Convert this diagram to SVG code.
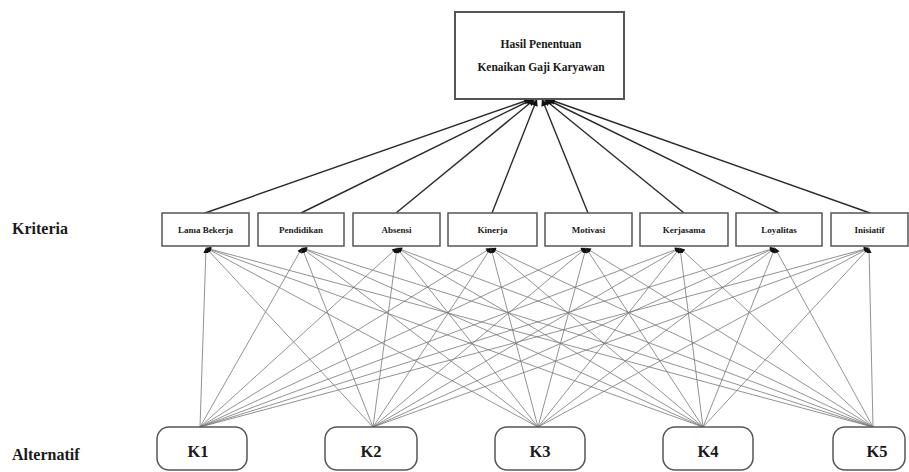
<svg xmlns="http://www.w3.org/2000/svg" width="909" height="472" viewBox="0 0 909 472">
<style>
.bx{fill:#fff;stroke:#555;stroke-width:1.5}
.t{font-family:"Liberation Serif","DejaVu Serif","Times New Roman",serif;font-weight:bold;fill:#1a1a1a;text-anchor:middle}
.up{stroke:#2a2a2a;stroke-width:1.4;fill:none}
.lo{stroke:#777;stroke-width:0.8;fill:none}
</style>
<defs>
<marker id="ah" viewBox="0 0 10 10" refX="10" refY="5" markerWidth="9" markerHeight="7" markerUnits="userSpaceOnUse" orient="auto">
<path d="M0,0 L10,5 L0,10 z" fill="#111"/>
</marker>
<marker id="as" viewBox="0 0 10 10" refX="10" refY="5" markerWidth="7" markerHeight="5" markerUnits="userSpaceOnUse" orient="auto">
<path d="M0,0 L10,5 L0,10 z" fill="#111"/>
</marker>
</defs>
<rect width="909" height="472" fill="#fff"/>
<text class="t" font-family="Liberation Serif, serif" x="12" y="234" style="text-anchor:start;font-size:16px">Kriteria</text>
<text class="t" font-family="Liberation Serif, serif" x="12" y="460" style="text-anchor:start;font-size:16px">Alternatif</text>
<g id="connectors">
<g class="up" marker-end="url(#ah)">
<line x1="205" y1="213" x2="531" y2="99"/>
<line x1="301" y1="213" x2="533" y2="99"/>
<line x1="396" y1="213" x2="535" y2="99"/>
<line x1="492" y1="213" x2="537" y2="99"/>
<line x1="588" y1="213" x2="542" y2="99"/>
<line x1="684" y1="213" x2="544" y2="99"/>
<line x1="779" y1="213" x2="546" y2="99"/>
<line x1="870" y1="213" x2="548" y2="99"/>
</g>
<g class="lo" marker-end="url(#as)">
<line x1="200" y1="427" x2="206" y2="248"/><line x1="200" y1="427" x2="302" y2="248"/><line x1="200" y1="427" x2="397" y2="248"/><line x1="200" y1="427" x2="491" y2="248"/><line x1="200" y1="427" x2="586" y2="248"/><line x1="200" y1="427" x2="680" y2="248"/><line x1="200" y1="427" x2="775" y2="248"/><line x1="200" y1="427" x2="869" y2="248"/>
<line x1="373" y1="427" x2="206" y2="248"/><line x1="373" y1="427" x2="302" y2="248"/><line x1="373" y1="427" x2="397" y2="248"/><line x1="373" y1="427" x2="491" y2="248"/><line x1="373" y1="427" x2="586" y2="248"/><line x1="373" y1="427" x2="680" y2="248"/><line x1="373" y1="427" x2="775" y2="248"/><line x1="373" y1="427" x2="869" y2="248"/>
<line x1="538" y1="427" x2="206" y2="248"/><line x1="538" y1="427" x2="302" y2="248"/><line x1="538" y1="427" x2="397" y2="248"/><line x1="538" y1="427" x2="491" y2="248"/><line x1="538" y1="427" x2="586" y2="248"/><line x1="538" y1="427" x2="680" y2="248"/><line x1="538" y1="427" x2="775" y2="248"/><line x1="538" y1="427" x2="869" y2="248"/>
<line x1="703" y1="427" x2="206" y2="248"/><line x1="703" y1="427" x2="302" y2="248"/><line x1="703" y1="427" x2="397" y2="248"/><line x1="703" y1="427" x2="491" y2="248"/><line x1="703" y1="427" x2="586" y2="248"/><line x1="703" y1="427" x2="680" y2="248"/><line x1="703" y1="427" x2="775" y2="248"/><line x1="703" y1="427" x2="869" y2="248"/>
<line x1="873" y1="427" x2="206" y2="248"/><line x1="873" y1="427" x2="302" y2="248"/><line x1="873" y1="427" x2="397" y2="248"/><line x1="873" y1="427" x2="491" y2="248"/><line x1="873" y1="427" x2="586" y2="248"/><line x1="873" y1="427" x2="680" y2="248"/><line x1="873" y1="427" x2="775" y2="248"/><line x1="873" y1="427" x2="869" y2="248"/>
</g>
</g>
<g id="goal">
<rect class="bx" x="455" y="12" width="169" height="87" style="stroke-width:2"/>
<text class="t" x="541" y="48" style="font-size:11.5px">Hasil Penentuan</text>
<text class="t" x="541" y="71" style="font-size:11.5px">Kenaikan Gaji Karyawan</text>
</g>
<g id="c1"><rect class="bx" x="162" y="213" width="87" height="33"/><text class="t" x="205.5" y="232.5" style="font-size:9px">Lama Bekerja</text></g>
<g id="c2"><rect class="bx" x="258" y="213" width="86" height="33"/><text class="t" x="301" y="232.5" style="font-size:9px">Pendidikan</text></g>
<g id="c3"><rect class="bx" x="353" y="213" width="87" height="33"/><text class="t" x="396.5" y="232.5" style="font-size:9px">Absensi</text></g>
<g id="c4"><rect class="bx" x="448" y="213" width="89" height="33"/><text class="t" x="492.5" y="232.5" style="font-size:9px">Kinerja</text></g>
<g id="c5"><rect class="bx" x="545" y="213" width="87" height="33"/><text class="t" x="588.5" y="232.5" style="font-size:9px">Motivasi</text></g>
<g id="c6"><rect class="bx" x="640" y="213" width="88" height="33"/><text class="t" x="684" y="232.5" style="font-size:9px">Kerjasama</text></g>
<g id="c7"><rect class="bx" x="736" y="213" width="86" height="33"/><text class="t" x="779" y="232.5" style="font-size:9px">Loyalitas</text></g>
<g id="c8"><rect class="bx" x="831" y="213" width="77" height="33"/><text class="t" x="869.5" y="232.5" style="font-size:9px">Inisiatif</text></g>
<g id="k1"><rect class="bx" x="157" y="427" width="90" height="43" rx="12"/><text class="t" x="198" y="457" style="font-size:16.5px">K1</text></g>
<g id="k2"><rect class="bx" x="325" y="427" width="92" height="43" rx="12"/><text class="t" x="371" y="457" style="font-size:16.5px">K2</text></g>
<g id="k3"><rect class="bx" x="495" y="427" width="90" height="43" rx="12"/><text class="t" x="540" y="457" style="font-size:16.5px">K3</text></g>
<g id="k4"><rect class="bx" x="663" y="427" width="90" height="43" rx="12"/><text class="t" x="708" y="457" style="font-size:16.5px">K4</text></g>
<g id="k5"><rect class="bx" x="833" y="427" width="72" height="43" rx="12"/><text class="t" x="877" y="457" style="font-size:16.5px">K5</text></g>
</svg>
